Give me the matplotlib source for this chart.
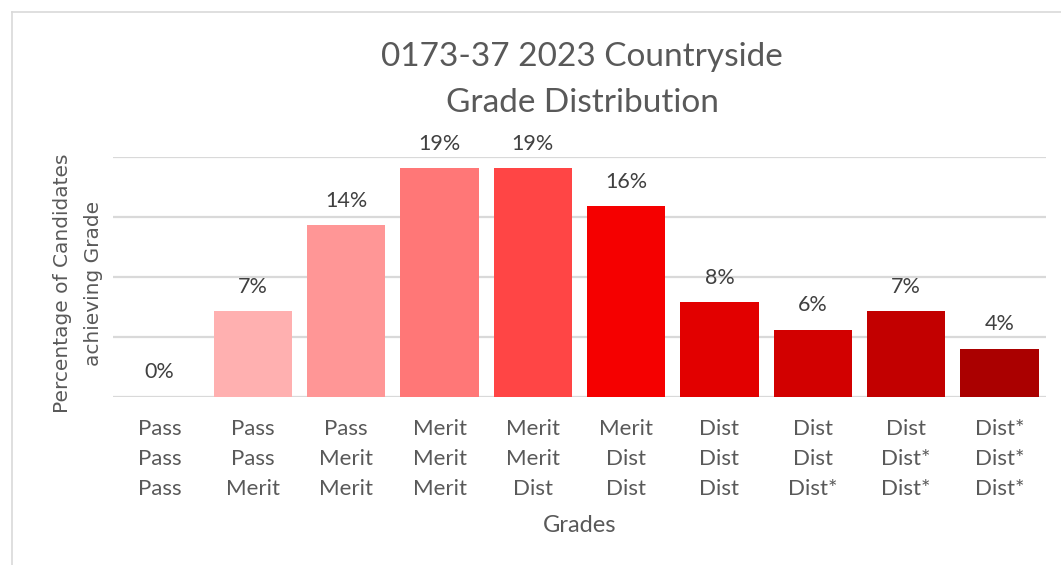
import numpy as np
import matplotlib
matplotlib.use("Agg")
import matplotlib.pyplot as plt
from matplotlib.lines import Line2D

# grade combinations (one per bar) and share of candidates (%)
grades = ["Pass\nPass\nPass", "Pass\nPass\nMerit", "Pass\nMerit\nMerit",
          "Merit\nMerit\nMerit", "Merit\nMerit\nDist", "Merit\nDist\nDist",
          "Dist\nDist\nDist", "Dist\nDist\nDist*", "Dist\nDist*\nDist*",
          "Dist*\nDist*\nDist*"]
percent = [0.0, 7.15, 14.3, 19.05, 19.05, 15.9, 7.9, 5.6, 7.15, 4.0]
colours = ["#FFC0C0", "#FFB0B0", "#FF9696", "#FF7777", "#FF4545",
           "#F50000", "#E20000", "#D20000", "#C20000", "#AA0000"]

plt.rcParams['font.family'] = ['Lato', 'DejaVu Sans']

fig = plt.figure(figsize=(10.61, 5.65), dpi=100)
ax = fig.add_axes([113/1061, 1-397/565, (1046-113)/1061, (397-157)/565])

x = np.arange(len(grades))
bars = ax.bar(x, percent, width=0.84, color=colours, zorder=2)

for xi, v in zip(x, percent):
    ax.text(xi, v + 2.05, "%d%%" % round(v), ha='center', va='center',
            fontsize=15.5, color='#404040')

ax.set_xlim(-0.5, len(grades) - 0.5)
ax.set_ylim(0, 20)
ax.set_yticks([0, 5, 10, 15, 20])
ax.yaxis.grid(True, color='#D9D9D9', linewidth=1.6, zorder=0)
ax.set_yticklabels([])
ax.tick_params(axis='y', length=0)
ax.tick_params(axis='x', length=0, pad=16)
ax.set_xticks(x)
ax.set_xticklabels(grades, fontsize=16, color='#595959', linespacing=1.63)
for s in ax.spines.values():
    s.set_visible(False)

fig.text(582/1061, 1-57/565, "0173-37 2023 Countryside", ha='center', va='center',
         fontsize=24, color='#595959')
fig.text(582/1061, 1-103/565, "Grade Distribution", ha='center', va='center',
         fontsize=24, color='#595959')
fig.text(580/1061, 1-526/565, "Grades", ha='center', va='center',
         fontsize=17, color='#595959')
fig.text(78/1061, 1-283/565, "Percentage of Candidates\nachieving Grade", ha='center',
         va='center', rotation=90, fontsize=14.5, color='#595959',
         family='DejaVu Sans', linespacing=1.75)

# chart area border
fig.add_artist(Line2D([12/1061, 1], [1-12/565, 1-12/565], color='#D9D9D9', linewidth=1.2))
fig.add_artist(Line2D([12/1061, 12/1061], [0, 1-12/565], color='#D9D9D9', linewidth=1.2))

fig.savefig("out.png", dpi=100, facecolor='white')
